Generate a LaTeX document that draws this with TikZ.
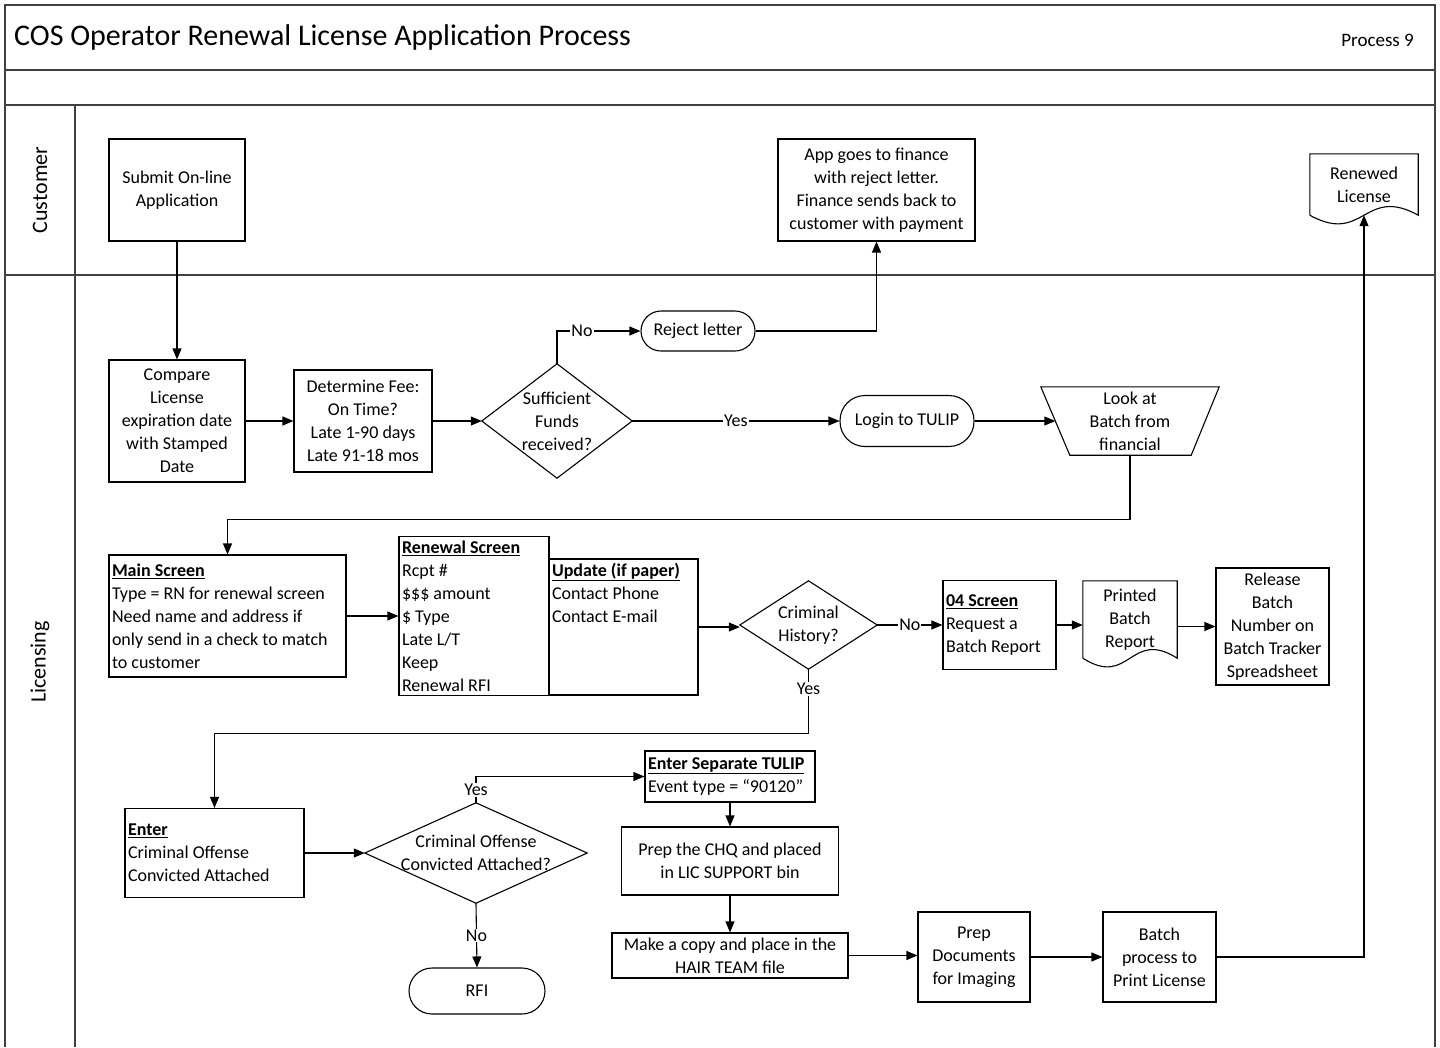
\documentclass[tikz,border=0pt]{standalone}
\usepackage{fontspec}
\setmainfont{Carlito}
\usetikzlibrary{arrows.meta,calc}
\newcommand\nodefont{\fontsize{18}{23}\selectfont}
\begin{document}
\begin{tikzpicture}[x=1pt,y=-1pt,
  frame/.style={line width=1.6pt, draw=black!75},
  box/.style={draw, line width=1.1pt, inner sep=0pt, align=center, font=\nodefont},
  lbox/.style={draw, line width=1.1pt, inner xsep=3pt, inner ysep=0pt, align=flush left, font=\nodefont},
  term/.style={draw, line width=1.1pt, rounded corners=20pt, inner sep=0pt, align=center, font=\nodefont},
  shapebox/.style={inner sep=0pt, align=center, font=\nodefont},
  outl/.style={line width=1.1pt},
  conn/.style={line width=1.1pt, -{Triangle[length=11pt,width=9pt]}},
  lbl/.style={fill=white, inner sep=1pt, font=\nodefont}]
\useasboundingbox (0,0) rectangle (1440,1047);

% frame and lanes
\draw[frame] (5,1047) -- (5,5) -- (1435,5) -- (1435,1047);
\draw[frame] (5,70) -- (1435,70);
\draw[frame] (5,105) -- (1435,105);
\draw[frame] (5,275) -- (1435,275);
\draw[frame] (75,105) -- (75,1047);

\node[anchor=west, inner sep=0pt, font=\fontsize{30}{36}\selectfont] (title) at (14,37) {COS Operator Renewal License Application Process};
\node[anchor=east, inner sep=0pt, font=\fontsize{19}{23}\selectfont] (proc) at (1414,40) {Process 9};
\node[rotate=90, font=\fontsize{22}{26}\selectfont] (cust) at (40,190) {Customer};
\node[rotate=90, font=\fontsize{22}{26}\selectfont] (lic) at (40,662) {Licensing};

% customer lane
\node[box, minimum width=136, minimum height=102] (submit) at (177,190) {Submit On-line\\Application};
\node[box, minimum width=197, minimum height=102] (app) at (876.5,190) {App goes to finance\\with reject letter.\\Finance sends back to\\customer with payment};
\node[shapebox, minimum width=108, minimum height=61] (renewed) at (1364,184.5) {Renewed\\License};
\draw[outl] (renewed.south west) -- (renewed.north west) -- (renewed.north east) -- (renewed.south east)
  .. controls ($(renewed.south)+(0,-30)$) and ($(renewed.south)+(0,30)$) .. (renewed.south west);

% licensing row 1
\node[box, minimum width=136, minimum height=122] (compare) at (177,421) {Compare\\License\\expiration date\\with Stamped\\Date};
\node[box, minimum width=138, minimum height=102] (fee) at (363,421) {Determine Fee:\\On Time?\\Late 1-90 days\\Late 91-18 mos};
\node[shapebox, minimum width=150, minimum height=114] (suff) at (557,421) {Sufficient\\Funds\\received?};
\draw[outl] (suff.west) -- (suff.north) -- (suff.east) -- (suff.south) -- cycle;
\node[term, minimum width=114, minimum height=40] (reject) at (698,331) {Reject letter};
\node[term, rounded corners=25pt, minimum width=134, minimum height=51] (login) at (907,421) {Login to TULIP};
\node[shapebox, minimum width=178, minimum height=68] (look) at (1130,421) {Look at\\Batch from\\financial};
\draw[outl] (look.north west) -- (look.north east) -- ($(look.south east)+(-28,0)$) -- ($(look.south west)+(29,0)$) -- cycle;
\coordinate (lookin) at ($(look.west)+(14.5,0)$);

% licensing row 2
\node[lbox, text width=231, minimum height=122] (main) at (227.5,616) {\underline{\textbf{Main Screen}}\\Type = RN for renewal screen\\Need name and address if\\only send in a check to match\\to customer};
\node[lbox, text width=144, minimum height=159] (renewal) at (474,616) {\underline{\textbf{Renewal Screen}}\\Rcpt \#\\\$\$\$ amount\\\$ Type\\Late L/T\\Keep\\Renewal RFI};
\node[lbox, text width=143, minimum height=136] (update) at (623.5,627) {\underline{\textbf{Update (if paper)}}\\Contact Phone\\Contact E-mail\\~\\~\\~};
\node[shapebox, minimum width=137, minimum height=88] (crim) at (808.5,625) {Criminal\\History?};
\draw[outl] (crim.west) -- (crim.north) -- (crim.east) -- (crim.south) -- cycle;
\node[lbox, text width=107, minimum height=89] (scr04) at (999.5,625) {\underline{\textbf{04 Screen}}\\Request a\\Batch Report};
\node[shapebox, minimum width=94, minimum height=77] (printed) at (1130,619.5) {Printed\\Batch\\Report};
\draw[outl] (printed.south west) -- (printed.north west) -- (printed.north east) -- (printed.south east)
  .. controls ($(printed.south)+(0,-30)$) and ($(printed.south)+(0,30)$) .. (printed.south west);
\node[box, minimum width=113, minimum height=117] (release) at (1272.5,626.5) {Release\\Batch\\Number on\\Batch Tracker\\Spreadsheet};

% licensing row 3
\node[lbox, text width=173, minimum height=89] (enter) at (214.5,853) {\underline{\textbf{Enter}}\\Criminal Offense\\Convicted Attached};
\node[shapebox, minimum width=222, minimum height=100] (off) at (476,853) {Criminal Offense\\Convicted Attached?};
\draw[outl] (off.west) -- (off.north) -- (off.east) -- (off.south) -- cycle;
\node[term, rounded corners=23pt, minimum width=136, minimum height=46] (rfi) at (477,991) {RFI};
\node[lbox, text width=164, minimum height=51] (sep) at (730,776.5) {\underline{\textbf{Enter Separate TULIP}}\\Event type = “90120”};
\node[box, minimum width=217, minimum height=68] (chq) at (730,861) {Prep the CHQ and placed\\in LIC SUPPORT bin};
\node[box, minimum width=236, minimum height=45] (copy) at (730,955.5) {Make a copy and place in the\\HAIR TEAM file};
\node[box, minimum width=112, minimum height=90] (prep) at (974,957) {Prep\\Documents\\for Imaging};
\node[box, minimum width=113, minimum height=90] (batch) at (1159.5,957) {Batch\\process to\\Print License};

% connectors
\draw[conn] (submit.south) -- (compare.north);
\draw[conn] (compare.east) -- (fee.west);
\draw[conn] (fee.east) -- (suff.west);
\draw[conn] (suff.north) |- node[lbl, pos=0.65]{No} (reject.west);
\draw[conn] (reject.east) -| (app.south);
\draw[conn] (suff.east) -- node[lbl]{Yes} (login.west);
\draw[conn] (login.east) -- (lookin);
\draw[conn] (look.south) -- ++(0,64) -| (main.north);
\draw[conn] (main.east) -- (renewal.west);
\draw[conn] (update.east) -- (update.east -| crim.west);
\draw[conn] (crim.east) -- node[lbl]{No} (scr04.west);
\draw[conn] (scr04.east) -- (scr04.east -| printed.west);
\draw[conn] (printed.east |- release.west) -- (release.west);
\draw[conn] (crim.south) -- node[lbl, pos=0.31]{Yes} ++(0,64) -| (enter.north);
\draw[conn] (enter.east) -- (off.west);
\draw[conn] (off.north) |- node[lbl, pos=0.25]{Yes} (sep.west);
\draw[conn] (off.south) -- node[lbl]{No} (rfi.north);
\draw[conn] (sep.south) -- (chq.north);
\draw[conn] (chq.south) -- (copy.north);
\draw[conn] (copy.east) -- (copy.east -| prep.west);
\draw[conn] (prep.east) -- (batch.west);
\draw[conn] (batch.east) -| (renewed.south);
\end{tikzpicture}
\end{document}
